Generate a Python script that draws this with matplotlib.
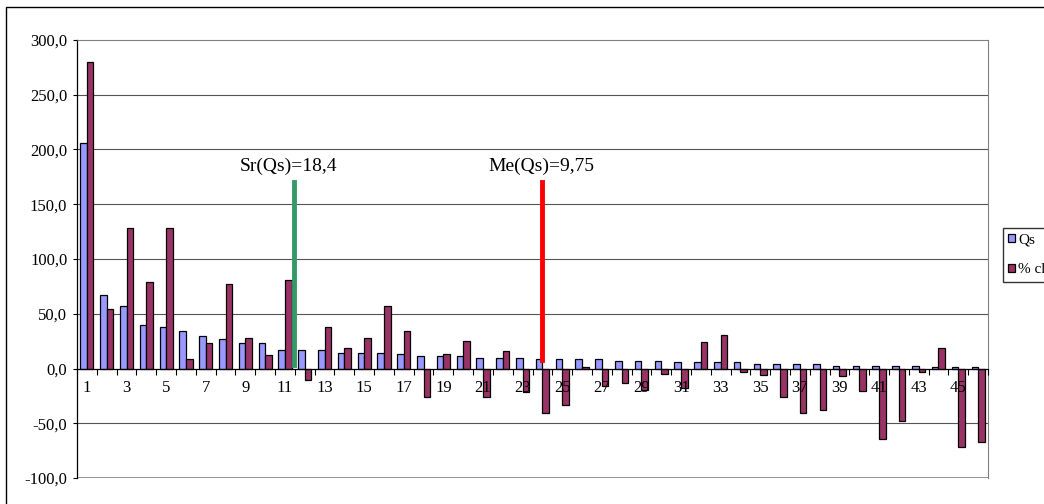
import matplotlib.pyplot as plt
import numpy as np
from matplotlib.patches import Rectangle
from matplotlib.ticker import FuncFormatter

# values
categories = list(range(1, 47))
qs = [205.5, 67.4, 57.0, 39.6, 38.0, 33.8, 29.6, 26.5, 23.5, 23.5,
      16.5, 16.5, 16.5, 14.6, 14.6, 14.6, 13.0, 11.6, 11.6, 11.6,
      10.0, 10.0, 10.0, 8.8, 8.5, 8.5, 8.5, 7.3, 7.3, 7.3,
      5.8, 5.8, 5.8, 5.8, 4.2, 4.2, 4.2, 4.2, 2.7, 2.7,
      2.7, 2.7, 2.7, 1.0, 1.0, 1.0]
pct = [280, 54, 128.3, 79, 128.3, 8.8, 23.5, 77.5, 28, 11.9,
       80.5, -10.4, 38, 18.9, 27.7, 56.7, 34, -26, 13, 25,
       -26, 16, -21.6, -41, -33.5, 1, -16, -13, -19.5, -5,
       -17.8, 23.8, 30.8, -3.3, -6, -26, -41, -38, -7.3, -20.5,
       -64, -48, -3.5, 19, -71.5, -67]
series_names = ["Qs", "% change"]
sr_label, sr_x = "Sr(Qs)=18,4", 10.46
me_label, me_x = "Me(Qs)=9,75", 22.97

plt.rcParams["font.family"] = ["Liberation Serif", "DejaVu Serif"]

fig = plt.figure(figsize=(10.44, 5.04), dpi=100)
ax = fig.add_axes([77 / 1044, 1 - 478 / 504, (988 - 77) / 1044, (478 - 40) / 504])
ax.set_axisbelow(False)  # tick labels drawn over the bars

x = np.arange(len(categories))
w = 0.333
ax.bar(x - w / 2, qs, w, color="#9999FF", edgecolor="black", linewidth=0.9,
       label=series_names[0], zorder=2)
ax.bar(x + w / 2, pct, w, color="#993366", edgecolor="black", linewidth=0.9,
       label=series_names[1], zorder=2)

ax.set_xlim(-0.5, len(categories) - 0.5)
ax.set_ylim(-100, 300)
yticks = np.arange(-100, 301, 50)
ax.set_yticks(yticks)
ax.yaxis.set_major_formatter(FuncFormatter(lambda v, p: f"{v:.1f}".replace(".", ",")))
# gridlines under the bars
for v in yticks[1:-1]:
    if v != 0:
        ax.axhline(v, color="#555555", linewidth=0.8, zorder=1)
ax.axhline(-100, color="#808080", linewidth=1.2, zorder=1)
ax.tick_params(axis="y", direction="out", length=3, labelsize=12, pad=4)

# category axis drawn through zero
ax.spines["bottom"].set_position(("data", 0))
ax.spines["bottom"].set_linewidth(0.9)
ax.spines["left"].set_linewidth(0.9)
for s in ["top", "right"]:
    ax.spines[s].set_color("#808080")
ax.set_xticks(np.arange(-0.5, len(categories), 1))
ax.set_xticklabels([])
ax.tick_params(axis="x", which="major", direction="out", length=4, width=0.8)
ax.set_xticks(x[::2], minor=True)
ax.set_xticklabels([str(c) for c in categories[::2]], minor=True)
ax.tick_params(axis="x", which="minor", length=0, labelsize=12, pad=8)

# annotation lines
ax.plot([sr_x, sr_x], [3.4, 170.4], color="#339966", linewidth=3.5, zorder=4)
ax.plot([me_x, me_x], [8.2, 170.4], color="#FF0000", linewidth=3.5, zorder=4)
ax.text(10.16, 180, sr_label, ha="center", va="baseline", fontsize=14)
ax.text(22.93, 180, me_label, ha="center", va="baseline", fontsize=14)

fig.legend(loc="upper left", bbox_to_anchor=(1003 / 1044, 1 - 228 / 504),
           frameon=True, fancybox=False, edgecolor="black", fontsize=11,
           handlelength=0.45, handleheight=0.45, borderaxespad=0,
           labelspacing=1.1, handletextpad=0.2, borderpad=0.35)

# outer chart frame (right and bottom edges fall outside the picture)
fig.patches.append(Rectangle((6 / 1044, -0.1), 1.2, 1 - 7 / 504 + 0.1,
                             transform=fig.transFigure, fill=False,
                             edgecolor="black", linewidth=1))

fig.savefig("out.png", dpi=100)
